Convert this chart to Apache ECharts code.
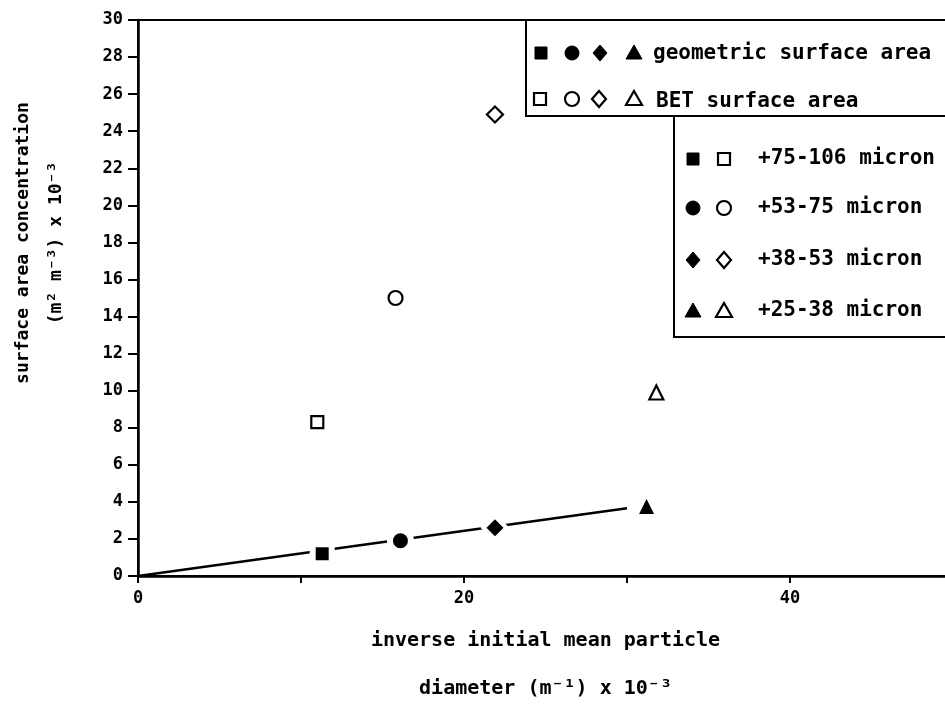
<!DOCTYPE html>
<html>
<head>
<meta charset="utf-8">
<script src="https://cdn.jsdelivr.net/npm/echarts@6/dist/echarts.min.js"></script>
<style>
  html, body { margin: 0; padding: 0; background: #fff; }
  #chart { width: 945px; height: 705px; }
</style>
</head>
<body>
<div id="chart"></div>
<script>
// particle size fractions, one marker shape each
const sizeClasses = ['+75-106 micron', '+53-75 micron', '+38-53 micron', '+25-38 micron'];
const classSymbols = ['rect', 'circle', 'diamond', 'triangle'];

// inverse initial mean particle diameter (m^-1) x 10^-3
const geoInvDiameter = [11.3, 16.1, 21.9, 31.2];
const betInvDiameter = [11.0, 15.8, 21.9, 31.8];

// surface area concentration (m2 m-3) x 10^-3
const geoArea = [1.2, 1.9, 2.6, 3.75];
const betArea = [8.3, 15.0, 24.9, 9.9];

// straight line through the geometric points
const fitX = [0, 30];
const fitY = [0, 3.65];

const xTicks = [0, 20, 40];

const FONT = 'DejaVu Sans Mono';

const chart = echarts.init(document.getElementById('chart'));

const symbolSizes = { rect: 13, circle: 15, diamond: 17, triangle: 15 };

function pointData(xs, ys, extra) {
  return xs.map((x, i) => ({
    value: [x, ys[i]],
    symbol: classSymbols[i],
    symbolSize: symbolSizes[classSymbols[i]] + extra
  }));
}

// legend marker drawn as a graphic shape
function legendMark(kind, cx, cy, filled) {
  const style = filled
    ? { fill: '#000', stroke: '#000', lineWidth: 1 }
    : { fill: '#fff', stroke: '#000', lineWidth: 2.2 };
  const r = 6;
  if (kind === 'rect') {
    return { type: 'rect', shape: { x: cx - r, y: cy - r, width: 2 * r, height: 2 * r }, style };
  }
  if (kind === 'circle') {
    return { type: 'circle', shape: { cx, cy, r: 7 }, style };
  }
  if (kind === 'diamond') {
    return { type: 'polygon', shape: { points: [[cx, cy - 8], [cx + 7, cy], [cx, cy + 8], [cx - 7, cy]] }, style };
  }
  return { type: 'polygon', shape: { points: [[cx, cy - 8], [cx + 8, cy + 6], [cx - 8, cy + 6]] }, style };
}

function legendText(text, x, y) {
  return {
    type: 'text', x, y,
    style: { text, fill: '#000', font: 'bold 21px ' + FONT, verticalAlign: 'middle', align: 'left' }
  };
}

const graphics = [
  // upper box: fill type
  { type: 'rect', shape: { x: 526, y: 20, width: 440, height: 96 }, style: { fill: '#fff', stroke: '#000', lineWidth: 2 } },
  // lower box: size classes
  { type: 'rect', shape: { x: 674, y: 116, width: 300, height: 221 }, style: { fill: '#fff', stroke: '#000', lineWidth: 2 } }
];

const row1X = [541, 572, 600, 634];
const row2X = [540, 572, 599, 634];
classSymbols.forEach((s, i) => {
  graphics.push(legendMark(s, row1X[i], 53, true));
  graphics.push(legendMark(s, row2X[i], 99, false));
});
graphics.push(legendText('geometric surface area', 653, 54));
graphics.push(legendText('BET surface area', 656, 102));

const rowY = [159, 208, 260, 311];
sizeClasses.forEach((label, i) => {
  graphics.push(legendMark(classSymbols[i], 693, rowY[i], true));
  graphics.push(legendMark(classSymbols[i], 724, rowY[i], false));
  graphics.push(legendText(label, 758, rowY[i]));
});

const option = {
  backgroundColor: '#fff',
  animation: false,
  grid: {
    left: 138,
    right: -8,
    top: 20,
    bottom: 129,
    outerBoundsMode: 'none',
    containLabel: false,
    show: true,
    borderColor: '#000',
    borderWidth: 2
  },
  xAxis: {
    type: 'value',
    min: 0,
    max: 50,
    interval: 10,
    name: 'inverse initial mean particle\ndiameter (m⁻¹) x 10⁻³',
    nameLocation: 'middle',
    nameGap: 41,
    nameTextStyle: { color: '#000', fontFamily: FONT, fontWeight: 'bold', fontSize: 20, lineHeight: 48 },
    axisLine: { lineStyle: { color: '#000', width: 2.5 } },
    axisTick: { inside: false, length: 7, lineStyle: { color: '#000', width: 2 } },
    axisLabel: {
      color: '#000', fontFamily: FONT, fontWeight: 'bold', fontSize: 17, margin: 14,
      formatter: v => (xTicks.includes(v) ? String(v) : '')
    },
    splitLine: { show: false }
  },
  yAxis: {
    type: 'value',
    min: 0,
    max: 30,
    interval: 2,
    name: 'surface area concentration\n(m² m⁻³) x 10⁻³',
    nameLocation: 'middle',
    nameRotate: 90,
    nameGap: 65,
    nameTextStyle: {
      color: '#000', fontFamily: FONT, fontWeight: 'bold', fontSize: 18, lineHeight: 33,
      padding: [0, 0, 0, 110]  // nudge the title up the axis
    },
    axisLine: { lineStyle: { color: '#000', width: 2.5 } },
    axisTick: { inside: false, length: 10, lineStyle: { color: '#000', width: 2 } },
    axisLabel: { color: '#000', fontFamily: FONT, fontWeight: 'bold', fontSize: 17, margin: 15 },
    splitLine: { show: false }
  },
  series: [
    {
      name: 'fit',
      type: 'line',
      data: fitX.map((x, i) => [x, fitY[i]]),
      symbol: 'none',
      lineStyle: { color: '#000', width: 2.5 },
      z: 1
    },
    {
      // white halo that breaks the line around each filled marker
      name: 'halo',
      type: 'scatter',
      data: pointData(geoInvDiameter, geoArea, 12),
      itemStyle: { color: '#fff', opacity: 1 },
      silent: true,
      z: 2
    },
    {
      name: 'geometric surface area',
      type: 'scatter',
      data: pointData(geoInvDiameter, geoArea, 0),
      itemStyle: { color: '#000', opacity: 1 },
      z: 3
    },
    {
      name: 'BET surface area',
      type: 'scatter',
      data: pointData(betInvDiameter, betArea, -1),
      itemStyle: { color: '#fff', borderColor: '#000', borderWidth: 2.2, opacity: 1 },
      z: 3
    }
  ],
  graphic: graphics
};

chart.setOption(option);
</script>
</body>
</html>
